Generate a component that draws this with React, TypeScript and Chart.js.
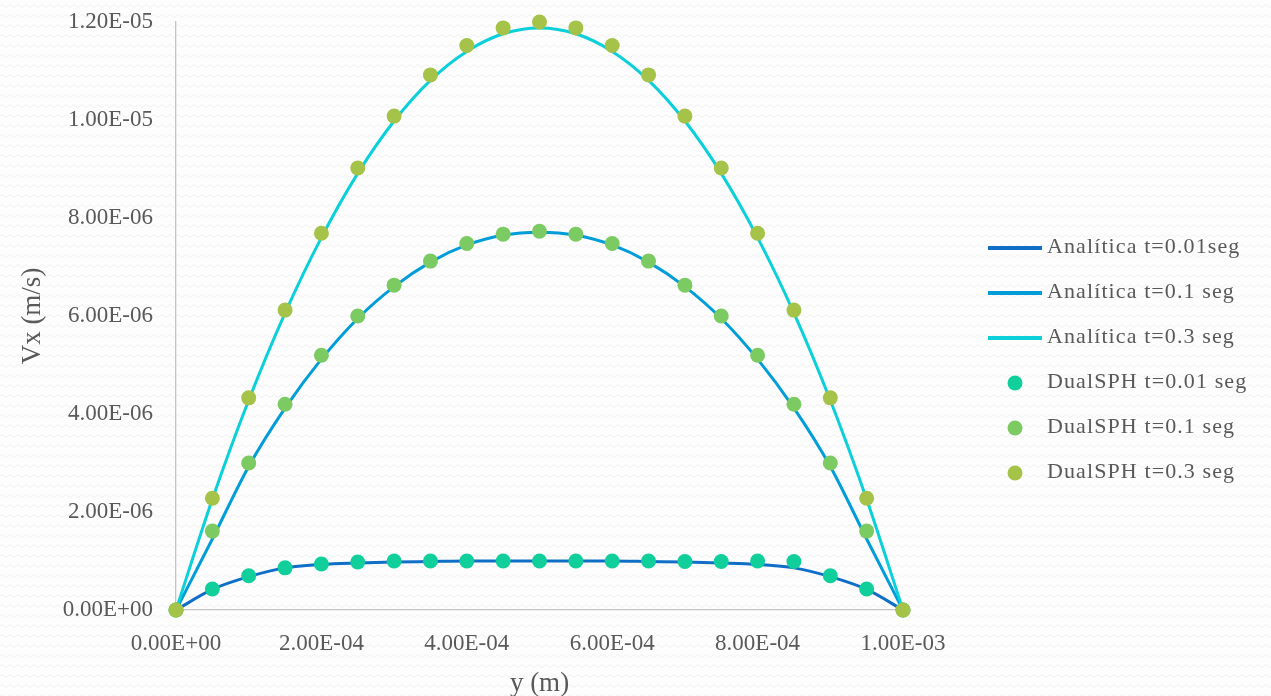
import React, { useEffect, useRef } from "react";
import { Chart, registerables } from "chart.js";

Chart.register(...registerables);

// y position across channel (m)
const yPos = [
  0, 0.00005, 0.0001, 0.00015, 0.0002, 0.00025, 0.0003, 0.00035, 0.0004, 0.00045, 0.0005,
  0.00055, 0.0006, 0.00065, 0.0007, 0.00075, 0.0008, 0.00085, 0.0009, 0.00095, 0.001,
];

// Analytical solutions Vx (m/s)
const anaT001 = [
  0, 4.2e-7, 6.8e-7, 8.6e-7, 9.3e-7, 9.6e-7, 9.8e-7, 9.9e-7, 1.0e-6, 1.0e-6, 1.0e-6,
  1.0e-6, 1.0e-6, 9.9e-7, 9.8e-7, 9.6e-7, 9.3e-7, 8.6e-7, 6.8e-7, 4.2e-7, 0,
];
const anaT01 = [
  0, 1.45e-6, 2.93e-6, 4.12e-6, 5.12e-6, 5.95e-6, 6.6e-6, 7.1e-6, 7.45e-6, 7.65e-6, 7.71e-6,
  7.65e-6, 7.45e-6, 7.1e-6, 6.6e-6, 5.95e-6, 5.12e-6, 4.12e-6, 2.93e-6, 1.45e-6, 0,
];
const anaT03 = [
  0, 2.26e-6, 4.28e-6, 6.06e-6, 7.6e-6, 8.91e-6, 9.98e-6, 1.081e-5, 1.14e-5, 1.176e-5, 1.188e-5,
  1.176e-5, 1.14e-5, 1.081e-5, 9.98e-6, 8.91e-6, 7.6e-6, 6.06e-6, 4.28e-6, 2.26e-6, 0,
];

// DualSPH results Vx (m/s)
const sphT001 = [
  0, 4.3e-7, 7.0e-7, 8.6e-7, 9.4e-7, 9.8e-7, 1.0e-6, 1.0e-6, 1.0e-6, 1.0e-6, 1.0e-6,
  1.0e-6, 1.0e-6, 1.0e-6, 9.9e-7, 9.9e-7, 1.0e-6, 9.9e-7, 7.0e-7, 4.3e-7, 0,
];
const sphT01 = [
  0, 1.61e-6, 3.0e-6, 4.2e-6, 5.2e-6, 6.0e-6, 6.63e-6, 7.12e-6, 7.48e-6, 7.67e-6, 7.73e-6,
  7.67e-6, 7.48e-6, 7.12e-6, 6.63e-6, 6.0e-6, 5.2e-6, 4.2e-6, 3.0e-6, 1.61e-6, 0,
];
const sphT03 = [
  0, 2.28e-6, 4.33e-6, 6.12e-6, 7.69e-6, 9.02e-6, 1.008e-5, 1.092e-5, 1.152e-5, 1.188e-5, 1.2e-5,
  1.188e-5, 1.152e-5, 1.092e-5, 1.008e-5, 9.02e-6, 7.69e-6, 6.12e-6, 4.33e-6, 2.28e-6, 0,
];

const seriesLabels = [
  "Analítica t=0.01seg",
  "Analítica t=0.1 seg",
  "Analítica t=0.3 seg",
  "DualSPH t=0.01 seg",
  "DualSPH t=0.1 seg",
  "DualSPH t=0.3 seg",
];
const seriesColors = ["#0F6FC6", "#009DD9", "#0BD0D9", "#10CF9B", "#7CCA62", "#A5C249"];

const xTickValues = [0, 0.0002, 0.0004, 0.0006, 0.0008, 0.001];
const xTickLabels = ["0.00E+00", "2.00E-04", "4.00E-04", "6.00E-04", "8.00E-04", "1.00E-03"];
const yTickValues = [0, 2e-6, 4e-6, 6e-6, 8e-6, 1e-5, 1.2e-5];
const yTickLabels = ["0.00E+00", "2.00E-06", "4.00E-06", "6.00E-06", "8.00E-06", "1.00E-05", "1.20E-05"];

const xTitle = "y (m)";
const yTitle = "Vx (m/s)";

const FONT = "'Liberation Serif', 'Times New Roman', serif";
const TEXT = "#595959";

const toPoints = (vals: number[]) => vals.map((v, i) => ({ x: yPos[i], y: v }));

const patternSvg =
  "data:image/svg+xml;utf8," +
  encodeURIComponent(
    "<svg xmlns='http://www.w3.org/2000/svg' width='8' height='10'><path d='M0 6 Q2 3 4 6 T8 6' fill='none' stroke='#f0f0f0' stroke-width='1'/></svg>"
  );

const legendPlugin = {
  id: "customLegend",
  afterDraw(chart: any) {
    const ctx = chart.ctx as CanvasRenderingContext2D;
    ctx.save();
    ctx.font = `22px ${FONT}`;
    (ctx as any).letterSpacing = "1.1px";
    ctx.fillStyle = TEXT;
    ctx.textBaseline = "middle";
    ctx.textAlign = "left";
    const ds = chart.data.datasets;
    for (let i = 0; i < ds.length; i++) {
      const cy = 248 + i * 45;
      const d = ds[i];
      if (d.showLine === false) {
        ctx.beginPath();
        ctx.fillStyle = d.backgroundColor;
        ctx.arc(1015, cy, 7.5, 0, Math.PI * 2);
        ctx.fill();
      } else {
        ctx.beginPath();
        ctx.strokeStyle = d.borderColor;
        ctx.lineWidth = 4;
        ctx.moveTo(988, cy);
        ctx.lineTo(1042, cy);
        ctx.stroke();
      }
      ctx.fillStyle = TEXT;
      ctx.fillText(d.label, 1047, cy - 1);
    }
    ctx.restore();
  },
};

export default function App() {
  const canvasRef = useRef<HTMLCanvasElement | null>(null);

  useEffect(() => {
    const canvas = canvasRef.current;
    if (!canvas) return;
    Chart.defaults.font.family = FONT;
    Chart.defaults.color = TEXT;

    const lineSets = [anaT001, anaT01, anaT03].map((vals, i) => ({
      type: "line" as const,
      label: seriesLabels[i],
      data: toPoints(vals),
      borderColor: seriesColors[i],
      backgroundColor: seriesColors[i],
      borderWidth: 3,
      pointRadius: 0,
      pointHoverRadius: 0,
      cubicInterpolationMode: "monotone" as const,
      fill: false,
      clip: false as any,
      order: 5 - i,
      showLine: true,
    }));
    const pointSets = [sphT001, sphT01, sphT03].map((vals, i) => ({
      type: "line" as const,
      label: seriesLabels[i + 3],
      data: toPoints(vals),
      borderColor: seriesColors[i + 3],
      backgroundColor: seriesColors[i + 3],
      pointBackgroundColor: seriesColors[i + 3],
      pointBorderWidth: 0,
      pointRadius: 7.5,
      showLine: false,
      clip: false as any,
      order: 2 - i,
    }));

    const chart = new Chart(canvas, {
      type: "line",
      data: { datasets: [...lineSets, ...pointSets] as any },
      plugins: [legendPlugin],
      options: {
        animation: false,
        responsive: false,
        devicePixelRatio: 1,
        layout: { padding: { top: 22, right: 368, bottom: 0, left: 0 } },
        plugins: {
          legend: { display: false },
          tooltip: { enabled: false },
        },
        scales: {
          x: {
            type: "linear",
            min: 0,
            max: 0.001,
            grid: { display: false, drawTicks: false },
            border: { display: true, color: "#c4c4c4", width: 1.3 },
            afterBuildTicks: (s: any) => {
              s.ticks = xTickValues.map((v) => ({ value: v }));
            },
            afterFit: (s: any) => {
              s.height = 86;
              s.paddingLeft = 0;
              s.paddingRight = 0;
            },
            ticks: {
              padding: 20,
              maxRotation: 0,
              autoSkip: false,
              color: TEXT,
              font: { size: 23, family: FONT },
              callback: (_v: any, i: number) => xTickLabels[i],
            },
            title: {
              display: true,
              text: xTitle,
              color: TEXT,
              font: { size: 27, family: FONT, lineHeight: 0.9 },
              padding: { top: 0, bottom: 0 },
            },
          },
          y: {
            type: "linear",
            min: 0,
            max: 1.2e-5,
            grid: { display: false, drawTicks: false },
            border: { display: true, color: "#c4c4c4", width: 1.3 },
            afterBuildTicks: (s: any) => {
              s.ticks = yTickValues.map((v) => ({ value: v }));
            },
            afterFit: (s: any) => {
              s.width = 176;
              s.paddingTop = 0;
              s.paddingBottom = 0;
            },
            ticks: {
              padding: 23,
              autoSkip: false,
              color: TEXT,
              font: { size: 23, family: FONT },
              callback: (_v: any, i: number) => yTickLabels[i],
            },
            title: {
              display: true,
              text: yTitle,
              color: TEXT,
              font: { size: 27, family: FONT, lineHeight: 0.9 },
              padding: { top: 21, bottom: 0 },
            },
          },
        },
      },
    });
    return () => chart.destroy();
  }, []);

  return (
    <div
      style={{
        position: "fixed",
        left: 0,
        top: 0,
        width: 1271,
        height: 696,
        backgroundColor: "#fdfdfd",
        backgroundImage: `url("${patternSvg}")`,
        backgroundRepeat: "repeat",
      }}
    >
      <canvas ref={canvasRef} width={1271} height={696} style={{ display: "block" }} />
    </div>
  );
}
